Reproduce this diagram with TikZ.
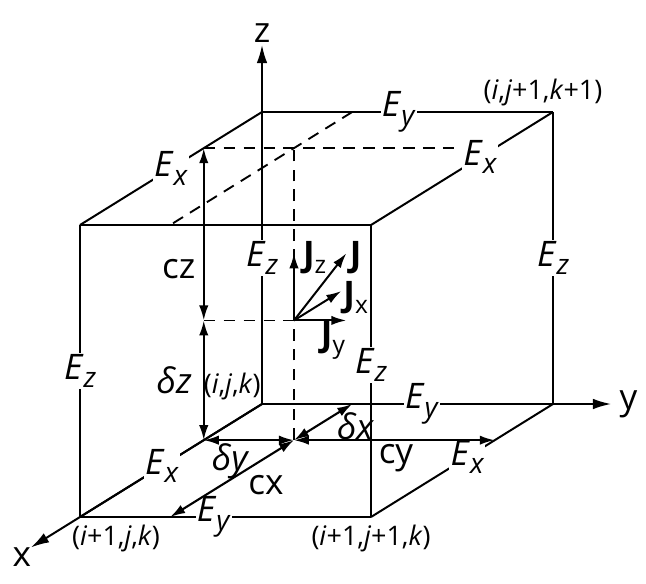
\documentclass[tikz,border=0pt]{standalone}
\usepackage{fontspec}
\setmainfont{Open Sans}
\usetikzlibrary{arrows.meta,calc,positioning}
\tikzstyle{every node}=[font=\fontsize{30}{34}\selectfont]
\tikzstyle{edge}=[line width=1.7pt]
\tikzstyle{hid}=[line width=1.6pt,dash pattern=on 10pt off 7pt]
\tikzstyle{axis}=[line width=1.7pt,-{Latex[length=5.5mm,width=3.2mm]}]
\tikzstyle{dim}=[line width=1.8pt,{Latex[length=4.5mm,width=2.8mm]}-{Latex[length=4.5mm,width=2.8mm]}]
\tikzstyle{vec}=[line width=1.7pt,-{Latex[length=4.5mm,width=2.8mm]}]
\tikzstyle{lbl}=[fill=white,inner sep=1pt]
\tikzstyle{txt}=[inner sep=0pt]
\tikzstyle{idx}=[font=\fontsize{23}{26}\selectfont,inner sep=1pt]
\newcommand{\fld}[2]{\textit{#1}\raisebox{-0.45ex}{\fontsize{24}{26}\selectfont\textit{#2}}}
\newcommand{\cur}[1]{\textbf{J}\raisebox{-0.4ex}{\fontsize{21}{24}\selectfont #1}}

\begin{document}
\begin{tikzpicture}[x={(-5.46cm,-3.39cm)},y={(8.73cm,0cm)},z={(0cm,8.76cm)}]
  \useasboundingbox (-7.86cm,12.12cm) rectangle (11.52cm,-5.37cm);
  % cube corners
  \coordinate (O) at (0,0,0);
  \coordinate (B) at (0,1,0);
  \coordinate (C) at (0,0,1);
  \coordinate (D) at (0,1,1);
  \coordinate (E) at (1,0,0);
  \coordinate (F) at (1,1,0);
  \coordinate (G) at (1,0,1);
  \coordinate (H) at (1,1,1);
  % inner grid points
  \coordinate (P) at (0.32,0.31,0);
  \coordinate (Pl) at (0.32,0,0);
  \coordinate (Pr) at (0.32,1,0);
  \coordinate (Pf) at (1,0.31,0);
  \coordinate (Pb) at (0,0.31,0);
  \coordinate (Tl) at (0.32,0,1);
  \coordinate (Tr) at (0.32,1,1);
  \coordinate (Tp) at (0.32,0.31,1);
  \coordinate (Tf) at (1,0.31,1);
  \coordinate (Tb) at (0,0.31,1);
  \coordinate (Q) at (0.32,0.31,0.41);
  \coordinate (Qz) at (0.32,0,0.41);
  % axes
  \coordinate (Xe) at (1.27,0,0);
  \coordinate (Ye) at (0,1.2,0);
  \coordinate (Ze) at (0,0,1.23);
  \draw[axis] (O) -- (Xe) node(xl)[below left=-6pt]{x};
  \draw[axis] (O) -- (Ye) node(yl)[right=3pt]{y};
  \draw[axis] (O) -- (Ze) node(zl)[above=-2pt]{z};
  % hidden lines
  \draw[hid] (Tl) -- (Tr);
  \draw[hid] (Tb) -- (Tf);
  \draw[hid] (P) -- (Tp);
  \draw[hid] (Qz) -- (Q);
  % cube edges
  \draw[edge] (C) -- node(ey1)[lbl,pos=.47]{\fld{E}{y}} (D);
  \draw[edge] (C) -- node(ex1)[lbl,pos=.5]{\fld{E}{x}} (G);
  \draw[edge] (D) -- node(ex2)[lbl,pos=.4]{\fld{E}{x}} (H);
  \draw[edge] (G) -- (H);
  \draw[edge] (O) -- node(ez1)[lbl,pos=.5]{\fld{E}{z}} (C);
  \draw[edge] (B) -- node(ez2)[lbl,pos=.5]{\fld{E}{z}} (D);
  \draw[edge] (E) -- node(ez3)[lbl,pos=.5]{\fld{E}{z}} (G);
  \draw[edge] (F) -- node(ez4)[lbl,pos=.52]{\fld{E}{z}} (H);
  \draw[edge] (O) -- node(ey2)[lbl,pos=.55]{\fld{E}{y}} (B);
  \draw[edge] (O) -- node(ex3)[lbl,pos=.55]{\fld{E}{x}} (E);
  \draw[edge] (B) -- node(ex4)[lbl,pos=.47]{\fld{E}{x}} (F);
  \draw[edge] (E) -- node(ey3)[lbl,pos=.46]{\fld{E}{y}} (F);
  % cell sizes
  \draw[dim] (Pl) -- node(dz)[left=6pt]{\textit{δz}} (Qz);
  \draw[dim] (Qz) -- node(cz)[left=3pt,pos=.3]{cz} (Tl);
  \draw[dim] (Pl) -- (P);
  \draw[dim] (P) -- (Pr);
  \draw[dim] (P) -- (Pb);
  \draw[dim] (P) -- (Pf);
  \node(dy)[txt] at ($(P)+(-1.9cm,-0.62cm)$) {\textit{δy}};
  \node(cy)[txt] at ($(P)+(3.06cm,-0.54cm)$) {cy};
  \node(dx)[txt] at ($(P)+(1.85cm,0.42cm)$) {\textit{δx}};
  \node(cx)[txt] at ($(P)+(-0.84cm,-1.35cm)$) {cx};
  % current density
  \draw[vec] (Q) -- ($(Q)+(0,0,0.23)$);
  \draw[vec] (Q) -- ($(Q)+(0,0.18,0.23)$);
  \draw[vec] (Q) -- ($(Q)+(-0.26,0,0)$);
  \draw[vec] (Q) -- ($(Q)+(0,0.18,0)$);
  \node(jz)[txt] at ($(Q)+(0.62cm,1.89cm)$) {\cur{z}};
  \node(j)[txt] at ($(Q)+(1.85cm,1.89cm)$) {\textbf{J}};
  \node(jx)[txt] at ($(Q)+(1.85cm,0.69cm)$) {\cur{x}};
  \node(jy)[txt] at ($(Q)+(1.17cm,-0.6cm)$) {\cur{y}};
  % corner indices
  \node(n0)[idx,above left=2pt and 0pt] at (O) {(\textit{i},\textit{j},\textit{k})};
  \node(n1)[idx,above=4pt,xshift=-0.3cm] at (D) {(\textit{i},\textit{j}+1,\textit{k}+1)};
  \node(n2)[idx,below right=6pt and -8pt] at (E) {(\textit{i}+1,\textit{j},\textit{k})};
  \node(n3)[idx,below=6pt] at (F) {(\textit{i}+1,\textit{j}+1,\textit{k})};
\end{tikzpicture}
\end{document}
